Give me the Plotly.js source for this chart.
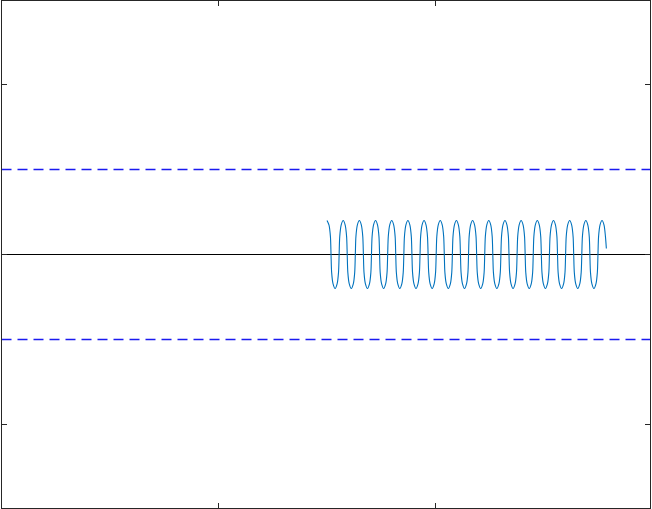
<!DOCTYPE html>
<html>
<head>
<meta charset="utf-8">
<script src="https://cdn.plot.ly/plotly-3.0.1.min.js"></script>
<style>html,body{margin:0;padding:0;background:#fff}#chart{width:652px;height:509px}</style>
</head>
<body>
<div id="chart"></div>
<script>
// Coil (meander-like wave) points
const coilX = [
  1.5000, 1.5093, 1.5158, 1.5186, 1.5214, 1.5280, 1.5373, 1.5466, 1.5531, 1.5559, 1.5587, 1.5652,
  1.5746, 1.5839, 1.5904, 1.5932, 1.5960, 1.6026, 1.6119, 1.6212, 1.6277, 1.6305, 1.6333, 1.6398,
  1.6491, 1.6584, 1.6649, 1.6677, 1.6705, 1.6771, 1.6864, 1.6957, 1.7022, 1.7050, 1.7078, 1.7143,
  1.7237, 1.7330, 1.7395, 1.7423, 1.7451, 1.7517, 1.7610, 1.7703, 1.7768, 1.7796, 1.7824, 1.7889,
  1.7982, 1.8075, 1.8140, 1.8168, 1.8196, 1.8262, 1.8355, 1.8448, 1.8513, 1.8541, 1.8569, 1.8634,
  1.8728, 1.8821, 1.8886, 1.8914, 1.8942, 1.9008, 1.9101, 1.9194, 1.9259, 1.9287, 1.9315, 1.9380,
  1.9473, 1.9566, 1.9631, 1.9659, 1.9687, 1.9753, 1.9846, 1.9939, 2.0004, 2.0032, 2.0060, 2.0125,
  2.0219, 2.0312, 2.0377, 2.0405, 2.0433, 2.0499, 2.0592, 2.0685, 2.0750, 2.0778, 2.0806, 2.0871,
  2.0964, 2.1057, 2.1122, 2.1150, 2.1178, 2.1244, 2.1337, 2.1430, 2.1495, 2.1523, 2.1551, 2.1616,
  2.1710, 2.1803, 2.1868, 2.1896, 2.1924, 2.1990, 2.2083, 2.2176, 2.2241, 2.2269, 2.2297, 2.2362,
  2.2455, 2.2548, 2.2613, 2.2641, 2.2669, 2.2735, 2.2828, 2.2921, 2.2986, 2.3014, 2.3042, 2.3107,
  2.3201, 2.3294, 2.3359, 2.3387, 2.3415, 2.3481, 2.3574, 2.3667, 2.3732, 2.3760, 2.3788, 2.3853,
  2.3946, 2.4039, 2.4104, 2.4132, 2.4160, 2.4226, 2.4319, 2.4412, 2.4477, 2.4505, 2.4533, 2.4598,
  2.4692, 2.4785, 2.4850, 2.4878, 2.4906, 2.4972, 2.5065, 2.5158, 2.5223, 2.5251, 2.5279, 2.5344,
  2.5437, 2.5530, 2.5595, 2.5623, 2.5651, 2.5717, 2.5810, 2.5903, 2.5968, 2.5996, 2.6024, 2.6089,
  2.6183, 2.6276, 2.6341, 2.6369, 2.6397, 2.6463, 2.6556, 2.6649, 2.6714, 2.6742, 2.6770, 2.6835,
  2.6928, 2.7021, 2.7086, 2.7114, 2.7142, 2.7208, 2.7301, 2.7394, 2.7459, 2.7487, 2.7515, 2.7580,
  2.7674, 2.7767, 2.7832, 2.7874
];
const coilY = [
  0.2, 0.173, 0.105, 0, -0.105, -0.173, -0.2, -0.173, -0.105, 0, 0.105, 0.173,
  0.2, 0.173, 0.105, 0, -0.105, -0.173, -0.2, -0.173, -0.105, 0, 0.105, 0.173,
  0.2, 0.173, 0.105, 0, -0.105, -0.173, -0.2, -0.173, -0.105, 0, 0.105, 0.173,
  0.2, 0.173, 0.105, 0, -0.105, -0.173, -0.2, -0.173, -0.105, 0, 0.105, 0.173,
  0.2, 0.173, 0.105, 0, -0.105, -0.173, -0.2, -0.173, -0.105, 0, 0.105, 0.173,
  0.2, 0.173, 0.105, 0, -0.105, -0.173, -0.2, -0.173, -0.105, 0, 0.105, 0.173,
  0.2, 0.173, 0.105, 0, -0.105, -0.173, -0.2, -0.173, -0.105, 0, 0.105, 0.173,
  0.2, 0.173, 0.105, 0, -0.105, -0.173, -0.2, -0.173, -0.105, 0, 0.105, 0.173,
  0.2, 0.173, 0.105, 0, -0.105, -0.173, -0.2, -0.173, -0.105, 0, 0.105, 0.173,
  0.2, 0.173, 0.105, 0, -0.105, -0.173, -0.2, -0.173, -0.105, 0, 0.105, 0.173,
  0.2, 0.173, 0.105, 0, -0.105, -0.173, -0.2, -0.173, -0.105, 0, 0.105, 0.173,
  0.2, 0.173, 0.105, 0, -0.105, -0.173, -0.2, -0.173, -0.105, 0, 0.105, 0.173,
  0.2, 0.173, 0.105, 0, -0.105, -0.173, -0.2, -0.173, -0.105, 0, 0.105, 0.173,
  0.2, 0.173, 0.105, 0, -0.105, -0.173, -0.2, -0.173, -0.105, 0, 0.105, 0.173,
  0.2, 0.173, 0.105, 0, -0.105, -0.173, -0.2, -0.173, -0.105, 0, 0.105, 0.173,
  0.2, 0.173, 0.105, 0, -0.105, -0.173, -0.2, -0.173, -0.105, 0, 0.105, 0.173,
  0.2, 0.173, 0.105, 0, -0.105, -0.173, -0.2, -0.173, -0.105, 0, 0.105, 0.173,
  0.2, 0.173, 0.105, 0.035
];
// Reference lines
const lineX = [0, 3];
const zeroLevel = [0, 0];
const upperLimit = [0.5, 0.5];
const lowerLimit = [-0.5, -0.5];

const traces = [
  {x: lineX, y: zeroLevel, mode: 'lines', line: {color: '#000000', width: 1}, hoverinfo: 'skip'},
  {x: lineX, y: upperLimit, mode: 'lines', line: {color: '#1a1af0', width: 1.4, dash: '10px,6px'}, hoverinfo: 'skip'},
  {x: lineX, y: lowerLimit, mode: 'lines', line: {color: '#1a1af0', width: 1.4, dash: '10px,6px'}, hoverinfo: 'skip'},
  {x: coilX, y: coilY, mode: 'lines', line: {color: '#0072BD', width: 1.1, shape: 'spline', smoothing: 0.8}}
];

const axisCommon = {
  showgrid: false, zeroline: false, showline: true, linecolor: '#262626', linewidth: 1,
  mirror: 'ticks', ticks: 'inside', ticklen: 5, tickwidth: 1, tickcolor: '#262626',
  showticklabels: false, fixedrange: true
};

const layout = {
  width: 652, height: 509,
  margin: {l: 2, r: 2, t: 1, b: 1, pad: 0},
  paper_bgcolor: '#ffffff', plot_bgcolor: '#ffffff',
  showlegend: false,
  xaxis: Object.assign({}, axisCommon, {range: [0.0023, 2.9885], dtick: 1, tick0: 0}),
  yaxis: Object.assign({}, axisCommon, {range: [-1.4912, 1.4912], dtick: 1, tick0: 0})
};

Plotly.newPlot('chart', traces, layout, {staticPlot: true, displayModeBar: false});
</script>
</body>
</html>
